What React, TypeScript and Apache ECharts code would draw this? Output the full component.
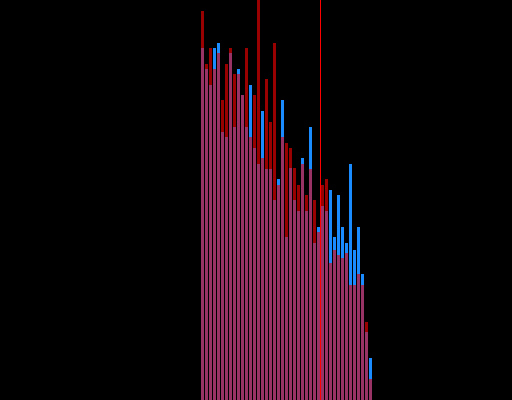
import React, { useEffect, useRef } from "react";
import * as echarts from "echarts";

// Bin labels (one per bar)
const bins: string[] = Array.from({ length: 43 }, (_, i) => `B${i + 1}`);

// Series A (dark red) values per bin
const seriesA: number[] = [
  389, 336, 352, 331, 347, 300, 336, 352, 326, 326,
  305, 352, 263, 305, 400, 242, 321, 278, 357, 215,
  263, 257, 252, 232, 215, 236, 205, 231, 200, 168,
  215, 221, 137, 150, 145, 142, 147, 115, 115, 126,
  115, 78, 21,
];

// Series B (blue) values per bin
const seriesB: number[] = [
  352, 331, 315, 352, 357, 268, 263, 347, 273, 331,
  305, 273, 315, 252, 236, 289, 231, 231, 200, 221,
  300, 163, 232, 200, 189, 242, 189, 273, 157, 173,
  194, 189, 210, 163, 205, 173, 157, 236, 150, 173,
  126, 68, 42,
];

// Shared part of both series in each bin
const overlap: number[] = seriesA.map((a, i) => Math.min(a, seriesB[i]));

// Position of the vertical marker, between bins 30 and 31
const markerPosition = 29.5;
const yMax = 400;

export default function App() {
  const ref = useRef<HTMLDivElement>(null);

  useEffect(() => {
    if (!ref.current) return;
    const chart = echarts.init(ref.current, undefined, { renderer: "svg" });
    chart.setOption({
      animation: false,
      backgroundColor: "#000000",
      grid: { left: 200.5, width: 172, top: 0, bottom: 0 },
      xAxis: [
        { type: "category", data: bins, show: false, boundaryGap: true },
        { type: "value", min: -0.5, max: bins.length - 0.5, show: false },
      ],
      yAxis: { type: "value", min: 0, max: yMax, show: false, splitLine: { show: false } },
      series: [
        {
          type: "bar",
          data: seriesA,
          barWidth: 3,
          barGap: "-100%",
          itemStyle: { color: "#990000" },
        },
        {
          type: "bar",
          data: seriesB,
          barWidth: 3,
          barGap: "-100%",
          itemStyle: { color: "#1a8cff" },
        },
        {
          type: "bar",
          data: overlap,
          barWidth: 3,
          barGap: "-100%",
          itemStyle: { color: "#993366" },
        },
        {
          type: "line",
          xAxisIndex: 1,
          data: [
            [markerPosition, 0],
            [markerPosition, yMax],
          ],
          symbol: "none",
          lineStyle: { color: "#ff0000", width: 1 },
          z: 5,
        },
      ],
    });
    return () => chart.dispose();
  }, []);

  return (
    <div
      ref={ref}
      style={{ position: "absolute", left: 0, top: 0, width: 512, height: 400 }}
    />
  );
}
